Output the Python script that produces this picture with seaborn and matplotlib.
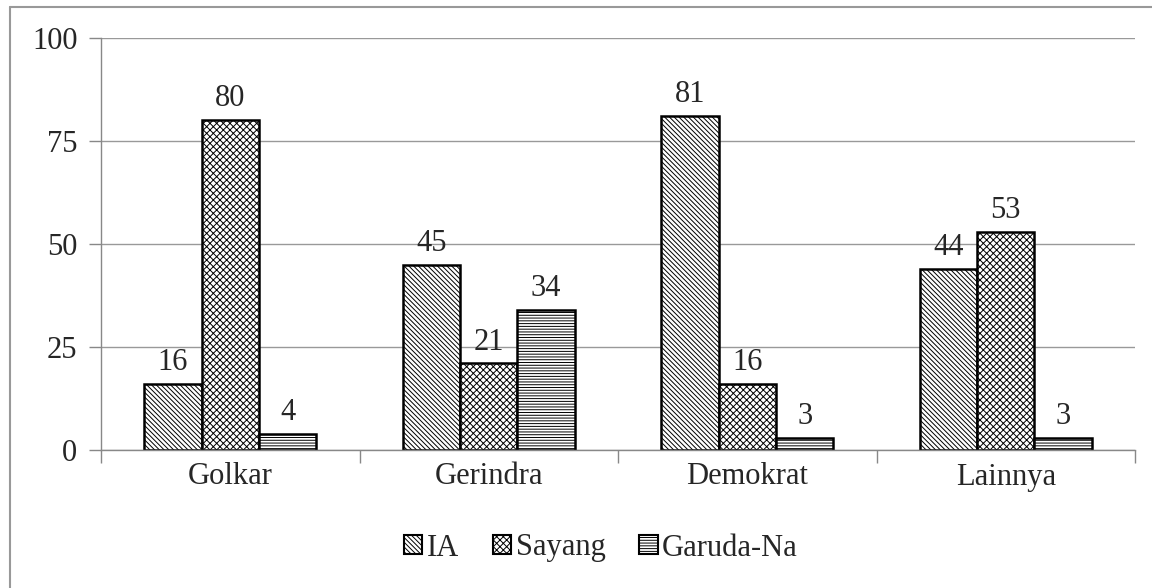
import matplotlib
matplotlib.use("Agg")
import matplotlib.pyplot as plt
import seaborn as sns
import pandas as pd
from matplotlib.lines import Line2D
from matplotlib.patches import Patch

categories = ["Golkar", "Gerindra", "Demokrat", "Lainnya"]
series = ["IA", "Sayang", "Garuda-Na"]
ia = [16, 45, 81, 44]
sayang = [80, 21, 16, 53]
garuda = [4, 34, 3, 3]
yticks = [0, 25, 50, 75, 100]

rows = []
for name, vals in zip(series, [ia, sayang, garuda]):
    for c, v in zip(categories, vals):
        rows.append({"cat": c, "series": name, "val": v})
df = pd.DataFrame(rows)

sns.set_theme(style="white")
plt.rcParams["font.family"] = ["Liberation Serif", "DejaVu Serif"]
plt.rcParams["hatch.linewidth"] = 0.7

FS = 22

fig = plt.figure(figsize=(11.52, 5.88), dpi=100)
ax = fig.add_axes([101/1152, 1-450/588, (1135-101)/1152, (450-38)/588])

sns.barplot(data=df, x="cat", y="val", hue="series", order=categories,
            hue_order=series, width=0.667, ax=ax, legend=False,
            palette=["white"]*3, edgecolor="black", linewidth=1.8, saturation=1)

hatches = ["\\" * 7, "x" * 5, "-" * 6]
for cont, h, vals in zip(ax.containers, hatches, [ia, sayang, garuda]):
    for bar in cont:
        bar.set_hatch(h)
        bar.set_facecolor("white")
        bar.set_edgecolor("black")
    ax.bar_label(cont, labels=[str(v) for v in vals], padding=5, fontsize=FS)

ax.set_ylim(0, 100)
ax.set_xlim(-0.5, 3.5)
ax.set_yticks(yticks)
ax.set_yticklabels([str(t) for t in yticks], fontsize=FS)
ax.tick_params(axis="y", length=9, width=1, color="#888888", direction="out", left=True, pad=8)
ax.tick_params(axis="x", length=0, pad=9, labelsize=FS)
ax.set_xlabel("")
ax.set_ylabel("")
for t in ax.get_xticklabels():
    t.set_fontsize(FS)
ax.grid(axis="y", color="#999999", linewidth=1)
ax.set_axisbelow(True)
for s in ["top", "right"]:
    ax.spines[s].set_visible(False)
for s in ["left", "bottom"]:
    ax.spines[s].set_color("#888888")
    ax.spines[s].set_linewidth(1)

# category boundary ticks on x axis
ax.set_xticks([-0.5, 0.5, 1.5, 2.5, 3.5], minor=True)
ax.tick_params(axis="x", which="minor", length=9, width=1, color="#888888", direction="out", bottom=True)

handles = [Patch(facecolor="white", edgecolor="black", hatch=h, linewidth=1.5) for h in hatches]
fig.legend(handles, series, loc="center", bbox_to_anchor=(601/1152, 1-548/588), ncol=3,
           frameon=False, fontsize=FS, handlelength=0.6, handleheight=0.6,
           handletextpad=0.15, columnspacing=1.1)

# outer frame (top and left edges)
fig.add_artist(Line2D([10/1152, 1], [1-7/588, 1-7/588], color="#999999", linewidth=1.5, transform=fig.transFigure))
fig.add_artist(Line2D([10/1152, 10/1152], [0, 1-7/588], color="#999999", linewidth=1.5, transform=fig.transFigure))

fig.savefig("out.png", dpi=100)
